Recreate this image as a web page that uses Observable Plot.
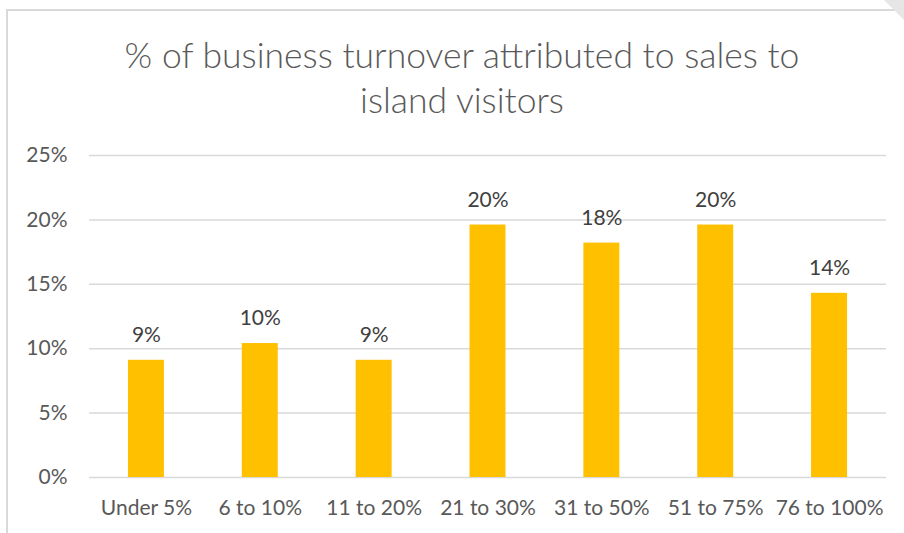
<!DOCTYPE html>
<html>
<head>
<meta charset="utf-8">
<script src="https://cdn.jsdelivr.net/npm/d3@7"></script>
<script src="https://cdn.jsdelivr.net/npm/@observablehq/plot@0.6"></script>
<style>
  html, body { margin: 0; padding: 0; background: #fff; }
  #wrap { position: relative; width: 904px; height: 533px; overflow: hidden; font-family: Lato, "Open Sans", sans-serif; }
  #frame { position: absolute; left: 6px; top: 9px; width: 1000px; height: 1000px; border-left: 2px solid #d9d9d9; border-top: 2px solid #d9d9d9; }
  #corner { position: absolute; left: 884px; top: 0; width: 0; height: 0; border-left: 20px solid transparent; border-top: 20px solid #e6e6e6; }
  #title { position: absolute; left: 10px; top: 0; width: 904px; height: 135px; text-align: center; color: #595959; font-size: 35.5px; font-weight: 300; line-height: 45px; padding-top: 32px; box-sizing: border-box; }
  #chart { position: absolute; left: 0; top: 135px; }
</style>
</head>
<body>
<div id="wrap">
  <div id="frame"></div>
  <div id="corner"></div>
  <div id="title">% of business turnover attributed to sales to<br>island visitors</div>
  <div id="chart"></div>
</div>
<script>
const categories = ["Under 5%", "6 to 10%", "11 to 20%", "21 to 30%", "31 to 50%", "51 to 75%", "76 to 100%"];
const values = [0.091, 0.104, 0.091, 0.196, 0.182, 0.196, 0.143];
const yTicks = [0, 0.05, 0.10, 0.15, 0.20, 0.25];

const data = categories.map((c, i) => ({category: c, value: values[i]}));
const pct = d => Math.round(d * 100) + "%";
const FS = 21;

const plot = Plot.plot({
  width: 904,
  height: 398,
  marginTop: 20,
  marginBottom: 56,
  marginLeft: 89,
  marginRight: 18,
  style: {fontFamily: "Lato, 'Open Sans', sans-serif", fontSize: FS + "px", color: "#595959", background: "transparent"},
  x: {domain: categories, paddingInner: 0.684, paddingOuter: 0.342, round: false, label: null},
  y: {domain: [0, 0.25], label: null},
  marks: [
    Plot.ruleY(yTicks, {stroke: "#d9d9d9", strokeWidth: 1.5}),
    Plot.barY(data, {x: "category", y: "value", fill: "#FFC000"}),
    Plot.text(data, {x: "category", y: "value", text: d => pct(d.value), dy: -25, fill: "#404040", fontSize: FS}),
    Plot.axisX({tickSize: 0, tickPadding: 23, fontSize: FS, color: "#595959", label: null}),
    Plot.axisY({ticks: yTicks, tickFormat: pct, tickSize: 0, tickPadding: 22, fontSize: FS, color: "#595959", label: null})
  ]
});
document.getElementById("chart").appendChild(plot);
</script>
</body>
</html>
